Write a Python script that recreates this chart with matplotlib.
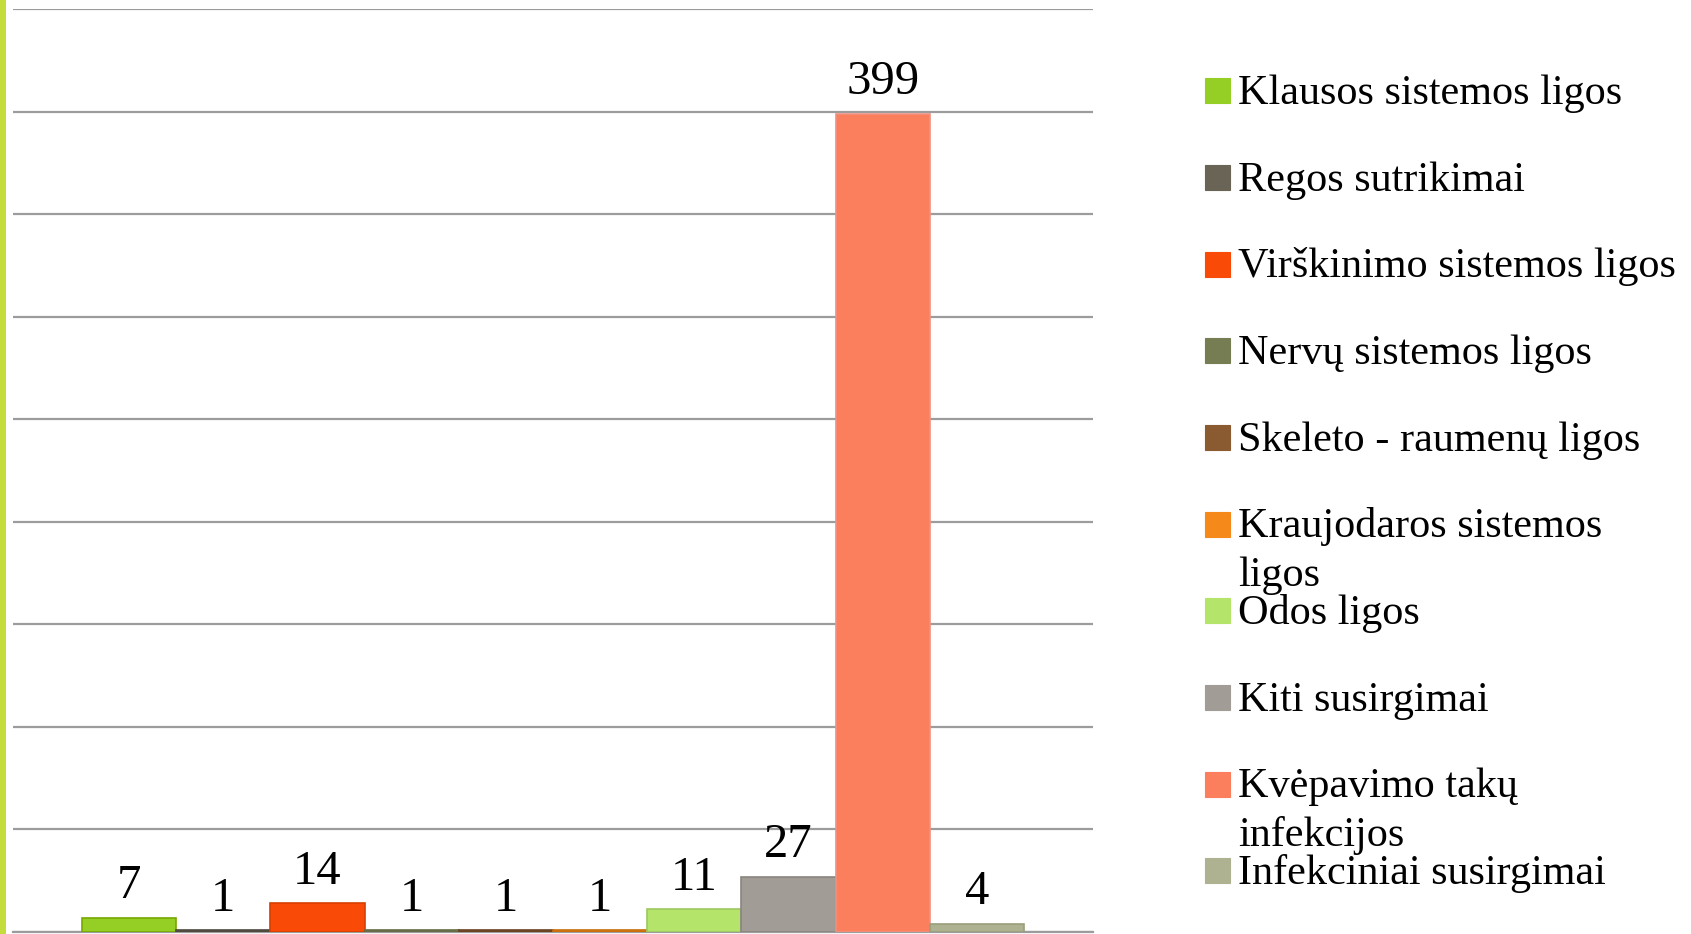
import matplotlib
matplotlib.use("Agg")
import matplotlib.pyplot as plt
from matplotlib.patches import Rectangle

# ---- data -------------------------------------------------------------
labels = [
    "Klausos sistemos ligos",
    "Regos sutrikimai",
    "Virškinimo sistemos ligos",
    "Nervų sistemos ligos",
    "Skeleto - raumenų ligos",
    "Kraujodaros sistemos\nligos",
    "Odos ligos",
    "Kiti susirgimai",
    "Kvėpavimo takų\ninfekcijos",
    "Infekciniai susirgimai",
]
values = [7, 1, 14, 1, 1, 1, 11, 27, 399, 4]
colors = ["#95cf25", "#5e574b", "#fa4a08", "#767d52", "#7c4f2a",
          "#e07e12", "#b4e46a", "#a29c96", "#fb7f5c", "#aeb290"]
edges = ["#77a800", "#4e483e", "#d84000", "#656b45", "#6a4222",
         "#c86e0c", "#9cc860", "#8a8580", "#f09080", "#9a9e7c"]
legend_colors = ["#95cf25", "#6a6457", "#fa4a08", "#767d52", "#8a5a30",
                 "#f58a1a", "#b4e46a", "#a29c96", "#fb7f5c", "#aeb290"]

W, H = 1691, 934
fig = plt.figure(figsize=(W / 100, H / 100), dpi=100)
fig.patch.set_facecolor("white")

# left decorative stripe
fig.add_artist(Rectangle((0, 0), 6 / W, 1, transform=fig.transFigure,
                         facecolor="#c4dc3c", edgecolor="none"))

ax = fig.add_axes([13 / W, 2 / H, 1080 / W, (H - 11) / H])
x = list(range(len(values)))
ax.bar(x, values, width=1.0, color=colors, edgecolor=edges, linewidth=1.2,
       zorder=3)

for xi, v in zip(x, values):
    ax.annotate(str(v), (xi, v), xytext=(0, 14), textcoords="offset points",
                ha="center", va="baseline", fontsize=35,
                family="Liberation Serif", color="black", zorder=4)

ax.set_xlim(-1.23, len(values) - 1 + 1.23)
ax.set_ylim(0, 450)
ax.set_yticks(range(0, 451, 50))
ax.yaxis.grid(True, color="#9c9c9c", linewidth=1.6, zorder=0)
ax.set_axisbelow(True)
for s in ["left", "right", "top"]:
    ax.spines[s].set_visible(False)
ax.spines["bottom"].set_color("#9c9c9c")
ax.spines["bottom"].set_linewidth(1.6)
ax.tick_params(left=False, bottom=False, labelleft=False, labelbottom=False)

# legend with fixed slot spacing; wrapped lines spill into the next slot
step = 86.7
first = 90.6
line_gap = 48.5
for i, (lab, c) in enumerate(zip(labels, legend_colors)):
    yc = first + i * step
    fig.add_artist(Rectangle((1205 / W, 1 - (yc + 12.5) / H), 25 / W, 25 / H,
                             transform=fig.transFigure, facecolor=c,
                             edgecolor=c, linewidth=0.8))
    for k, line in enumerate(lab.split("\n")):
        fig.text(1238 / W, 1 - (yc + 13.3 + k * line_gap) / H, line,
                 ha="left", va="baseline", fontsize=30.4,
                 family="Liberation Serif", color="black")

fig.savefig("out.png", dpi=100)
